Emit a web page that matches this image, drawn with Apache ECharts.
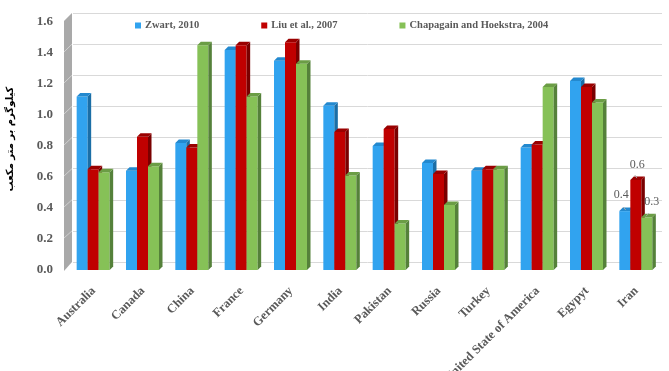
<!DOCTYPE html>
<html>
<head>
<meta charset="utf-8">
<script src="https://cdn.jsdelivr.net/npm/echarts@6/dist/echarts.min.js"></script>
<style>
  html, body { margin: 0; padding: 0; background: #fff; }
  #main { width: 669px; height: 371px; }
</style>
</head>
<body>
<div id="main"></div>
<script>
// data
var categories = ['Australia', 'Canada', 'China', 'France', 'Germany', 'India', 'Pakistan', 'Russia', 'Turkey', 'United State of America', 'Egypyt', 'Iran'];
var zwart = [1.12, 0.64, 0.82, 1.42, 1.35, 1.06, 0.80, 0.69, 0.64, 0.79, 1.22, 0.38];
var liu = [0.65, 0.86, 0.79, 1.45, 1.47, 0.89, 0.91, 0.62, 0.65, 0.81, 1.18, 0.58];
var chapagain = [0.63, 0.67, 1.45, 1.12, 1.33, 0.61, 0.30, 0.42, 0.65, 1.18, 1.08, 0.34];
var seriesNames = ['Zwart, 2010', 'Liu et al., 2007', 'Chapagain and Hoekstra, 2004'];
var labelled = ['Iran']; // only these get value labels
var yTicks = [0, 0.2, 0.4, 0.6, 0.8, 1.0, 1.2, 1.4, 1.6];

// front / side / top colours
var palette = [
  ['#31a3ef', '#1b6ea6', '#2389cf'],
  ['#c00000', '#7a0000', '#9a0000'],
  ['#86c157', '#55813a', '#6b9d45']
];
var labelOff = [[-3.5, -16], [1.5, -15], [5, -15]];
var lineOff = [[[-1.5, -4], [1, -1]], [[-1, -5], [1, -2]], [[2, -4], [-1, -1]]];

var BW = 11, D = 3.5;
var textGray = '#595959';
var serif = '"Liberation Serif", "Times New Roman", serif';

function makeRender(k) {
  return function (params, api) {
    var ci = api.value(0), v = api.value(1);
    var base = api.coord([ci, 0]);
    var top = api.coord([ci, v]);
    var x = base[0] - 17 + k * BW;
    var yb = base[1], yt = top[1];
    var c = palette[k];
    var kids = [
      { type: 'rect', shape: { x: x, y: yt, width: BW, height: yb - yt }, style: { fill: c[0] } },
      { type: 'polygon', shape: { points: [[x + BW, yt], [x + BW + D, yt - D], [x + BW + D, yb - D], [x + BW, yb]] }, style: { fill: c[1] } },
      { type: 'polygon', shape: { points: [[x, yt], [x + D, yt - D], [x + BW + D, yt - D], [x + BW, yt]] }, style: { fill: c[2] } }
    ];
    if (labelled.indexOf(categories[ci]) >= 0) {
      var cx = x + BW / 2;
      kids.push({
        type: 'text',
        style: {
          x: cx + labelOff[k][0], y: yt + labelOff[k][1],
          text: v.toFixed(1), fill: textGray, font: '12px ' + serif,
          align: 'center', verticalAlign: 'middle'
        }
      });
      kids.push({
        type: 'line',
        shape: { x1: cx + lineOff[k][0][0], y1: yt + lineOff[k][0][1], x2: cx + lineOff[k][1][0], y2: yt + lineOff[k][1][1] },
        style: { stroke: '#a6a6a6', lineWidth: 1 }
      });
    }
    return { type: 'group', children: kids };
  };
}

var myChart = echarts.init(document.getElementById('main'));

var seriesData = [zwart, liu, chapagain];
var series = seriesData.map(function (arr, k) {
  return {
    name: seriesNames[k],
    type: 'custom',
    xAxisIndex: 0,
    yAxisIndex: 0,
    renderItem: makeRender(k),
    itemStyle: { color: palette[k][0] },
    encode: { x: 0, y: 1 },
    data: arr.map(function (v, i) { return [i, v]; }),
    z: 3
  };
});

var option = {
  animation: false,
  color: [palette[0][0], palette[1][0], palette[2][0]],
  legend: {
    top: 15,
    left: 130,
    itemGap: 62,
    itemWidth: 6,
    itemHeight: 6,
    icon: 'rect',
    textStyle: { color: textGray, fontFamily: serif, fontWeight: 'bold', fontSize: 10.5, padding: [0, 0, 0, -1] },
    data: seriesNames
  },
  grid: [
    { left: 69, right: 8, top: 22, bottom: 101, containLabel: false, outerBoundsMode: 'none' },
    { left: 73, right: 7, top: 13, bottom: 109, containLabel: false, outerBoundsMode: 'none' }
  ],
  xAxis: [
    {
      type: 'category', gridIndex: 0, data: categories,
      axisLine: { show: false },
      axisTick: { show: false },
      axisLabel: {
        interval: 0, rotate: 45, margin: 19,
        color: textGray, fontFamily: serif, fontWeight: 'bold', fontSize: 12.5
      }
    },
    { type: 'category', gridIndex: 1, data: categories, show: false }
  ],
  yAxis: [
    {
      type: 'value', gridIndex: 0, min: 0, max: 1.6, interval: 0.2,
      name: 'کیلوگرم بر متر مکعب',
      nameLocation: 'middle', nameRotate: 90, nameGap: 54,
      nameTextStyle: { color: '#000', fontFamily: '"DejaVu Sans"', fontWeight: 'bold', fontSize: 10, padding: [0, 0, 0, 14] },
      axisLine: { show: false },
      axisTick: { show: false },
      splitLine: { show: false },
      axisLabel: {
        margin: 16, color: textGray, fontFamily: serif, fontWeight: 'bold', fontSize: 13,
        formatter: function (v) { return v.toFixed(1); }
      }
    },
    {
      type: 'value', gridIndex: 1, min: 0, max: 1.6, interval: 0.2,
      axisLine: { show: false }, axisTick: { show: false }, axisLabel: { show: false },
      splitLine: { lineStyle: { color: '#d9d9d9', width: 1 } }
    }
  ],
  series: series
};

myChart.setOption(option);

// left side wall, placed from the axes
var wallFront = 64, wallBack = 72;
var yf = function (v) { return myChart.convertToPixel({ yAxisIndex: 0 }, v); };
var yb = function (v) { return myChart.convertToPixel({ yAxisIndex: 1 }, v); };
var wall = [{
  type: 'polygon', z: 1,
  shape: { points: [[wallFront, yf(1.6) - 1], [wallBack, yb(1.6)], [wallBack, yb(0)], [wallFront, yf(0) + 1]] },
  style: { fill: '#a9a9a9' }
}];
yTicks.forEach(function (t) {
  if (t === 0) return;
  wall.push({
    type: 'line', z: 2,
    shape: { x1: wallFront, y1: yf(t) - 1, x2: wallBack, y2: yb(t) },
    style: { stroke: '#d0d0d0', lineWidth: 1 }
  });
});
myChart.setOption({ graphic: wall });
</script>
</body>
</html>
